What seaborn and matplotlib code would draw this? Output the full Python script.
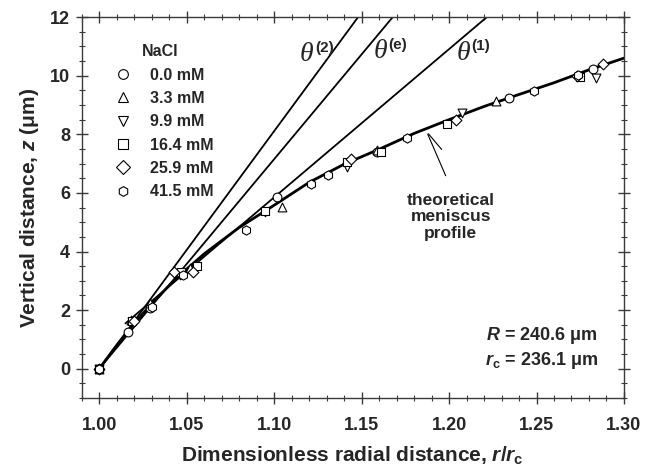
import numpy as np
import pandas as pd
import seaborn as sns
import matplotlib
matplotlib.use("Agg")
import matplotlib.pyplot as plt
from matplotlib.lines import Line2D

sns.set_theme(style="white")
plt.rcParams["font.family"] = ["Liberation Sans", "DejaVu Sans"]
plt.rcParams["font.weight"] = "bold"
plt.rcParams["mathtext.fontset"] = "custom"
plt.rcParams["mathtext.rm"] = "Liberation Sans:bold"
plt.rcParams["mathtext.it"] = "Liberation Sans:italic:bold"
plt.rcParams["mathtext.bf"] = "Liberation Sans:bold"

# Measured meniscus points (r/rc, z in micrometres) for each NaCl concentration
conc_labels = ["0.0 mM", "3.3 mM", "9.9 mM", "16.4 mM", "25.9 mM", "41.5 mM"]
marker_shapes = ["o", "^", "v", "s", "D", "h"]
marker_sizes = [40, 40, 40, 34, 30, 44]

r_00 = [1.000, 1.0164, 1.029, 1.047, 1.1015, 1.1587, 1.2343, 1.2825]
z_00 = [0.00, 1.27, 2.08, 3.25, 5.87, 7.41, 9.23, 10.22]
r_33 = [1.000, 1.018, 1.0288, 1.052, 1.1044, 1.1590, 1.2267]
z_33 = [0.00, 1.65, 2.25, 3.45, 5.53, 7.45, 9.13]
r_99 = [1.000, 1.019, 1.046, 1.0945, 1.1415, 1.2076, 1.2838]
z_99 = [0.00, 1.60, 3.20, 5.35, 6.89, 8.74, 9.93]
r_164 = [1.000, 1.019, 1.047, 1.0558, 1.0949, 1.1419, 1.1611, 1.1987, 1.2750]
z_164 = [0.00, 1.62, 3.30, 3.50, 5.39, 7.06, 7.41, 8.34, 9.97]
r_259 = [1.000, 1.020, 1.0425, 1.0539, 1.1438, 1.2038, 1.2730, 1.2880]
z_259 = [0.00, 1.62, 3.30, 3.30, 7.16, 8.49, 10.00, 10.40]
r_415 = [1.000, 1.030, 1.048, 1.0838, 1.1210, 1.1310, 1.1762, 1.2487, 1.2735]
z_415 = [0.00, 2.10, 3.20, 4.75, 6.29, 6.60, 7.88, 9.48, 10.02]

series_r = [r_00, r_33, r_99, r_164, r_259, r_415]
series_z = [z_00, z_33, z_99, z_164, z_259, z_415]

# Theoretical meniscus profile
curve_r = [1.00, 1.01, 1.02, 1.03, 1.04, 1.05, 1.06, 1.08, 1.10, 1.12, 1.14,
           1.16, 1.18, 1.20, 1.22, 1.24, 1.26, 1.28, 1.30]
curve_z = [0.00, 0.80, 1.55, 2.22, 2.84, 3.40, 3.92, 4.82, 5.58, 6.36, 6.98,
           7.49, 8.03, 8.50, 8.95, 9.36, 9.76, 10.20, 10.60]

# Contact-angle lines, each running up to the top of the plot
theta_labels = ["(2)", "(e)", "(1)"]
theta_r = [[1.0, 1.148], [1.0, 1.1678], [1.015, 1.2216]]
theta_z = [[0.0, 12.0], [0.0, 12.0], [1.55, 12.0]]
theta_label_pos = [(1.1187, 10.71), (1.1606, 10.82), (1.2082, 10.77)]

rows = []
for lab, rr, zz in zip(conc_labels, series_r, series_z):
    for a, b in zip(rr, zz):
        rows.append({"r": a, "z": b, "NaCl": lab})
df = pd.DataFrame(rows)

fig = plt.figure(figsize=(6.45, 4.75), dpi=100)
ax = fig.add_axes([0.1267, 0.162, 0.8407, 0.802])

for rr, zz in zip(theta_r, theta_z):
    sns.lineplot(x=rr, y=zz, ax=ax, color="black", lw=1.3, sort=False)
sns.lineplot(x=curve_r, y=curve_z, ax=ax, color="black", lw=2.0, sort=False)

for lab, mk, sz in zip(conc_labels, marker_shapes, marker_sizes):
    sub = df[df["NaCl"] == lab]
    sns.scatterplot(data=sub, x="r", y="z", ax=ax, marker=mk, s=sz,
                    facecolor="white", edgecolor="black", linewidth=0.8,
                    zorder=3, legend=False)

ax.set_xlim(0.99, 1.30)
ax.set_ylim(-1, 12)
ax.set_xticks([1.00, 1.05, 1.10, 1.15, 1.20, 1.25, 1.30])
ax.set_xticklabels(["1.00", "1.05", "1.10", "1.15", "1.20", "1.25", "1.30"])
ax.set_yticks([0, 2, 4, 6, 8, 10, 12])
ax.set_xticks(np.arange(0.99, 1.3001, 0.01), minor=True)
ax.set_yticks(np.arange(-1, 12.001, 0.5), minor=True)

spine_col = "#3a3a3a"
for sp in ax.spines.values():
    sp.set_color(spine_col)
    sp.set_linewidth(1.0)
    sp.set_visible(True)
ax.tick_params(which="major", direction="inout", length=9, width=1.0,
               color=spine_col, top=True, right=True, bottom=True, left=True,
               labelsize=13, pad=4)
ax.tick_params(which="minor", direction="inout", length=5, width=0.8,
               color=spine_col, top=True, right=True, bottom=True, left=True)
for t in ax.get_xticklabels() + ax.get_yticklabels():
    t.set_fontweight("bold")
ax.tick_params(axis="x", pad=9)

ax.set_xlabel(r"Dimensionless radial distance, $r$/$r_{\rm c}$",
              fontsize=15, fontweight="bold", labelpad=8)
ax.set_ylabel(r"Vertical distance, $z$ (μm)", fontsize=15,
              fontweight="bold", labelpad=6)

# Angle labels: italic serif theta with bold superscript
for lab, (xt, yt) in zip(theta_labels, theta_label_pos):
    ax.text(xt, yt, "θ", fontsize=20, style="italic",
            family="Liberation Serif", fontweight="normal",
            ha="center", va="center")
    ax.annotate(lab, xy=(xt, yt), xytext=(6, 5), textcoords="offset points",
                fontsize=11, fontweight="bold", ha="left", va="center")

# Pointer to the theoretical profile
tip = (1.1872, 8.09)
ax.annotate("", xy=tip, xytext=(1.1968, 7.41),
            arrowprops=dict(arrowstyle="-", lw=0.8, color="black"))
ax.annotate("", xy=tip, xytext=(1.1987, 6.50),
            arrowprops=dict(arrowstyle="-", lw=0.8, color="black"))
ax.text(1.201, 5.18, "theoretical\nmeniscus\nprofile", fontsize=12.5,
        fontweight="bold", ha="center", va="center", linespacing=1.15)

ax.text(1.285, 1.14, r"$R$ = 240.6 μm", fontsize=13, fontweight="bold",
        ha="right", va="center")
ax.text(1.285, 0.28, r"$r_{\rm c}$ = 236.1 μm", fontsize=13,
        fontweight="bold", ha="right", va="center")

handles = [Line2D([], [], marker=mk, linestyle="none", markersize=7,
                  markerfacecolor="white", markeredgecolor="black",
                  markeredgewidth=0.8)
           for mk in marker_shapes]
leg = ax.legend(handles, conc_labels, title="NaCl", loc="upper left",
                bbox_to_anchor=(0.035, 0.945), frameon=False, fontsize=11.5,
                handletextpad=0.7, labelspacing=0.52, borderaxespad=0,
                title_fontproperties={"weight": "bold", "size": 11.5})
for t in leg.get_texts():
    t.set_fontweight("bold")

fig.savefig("out.png", dpi=100)
